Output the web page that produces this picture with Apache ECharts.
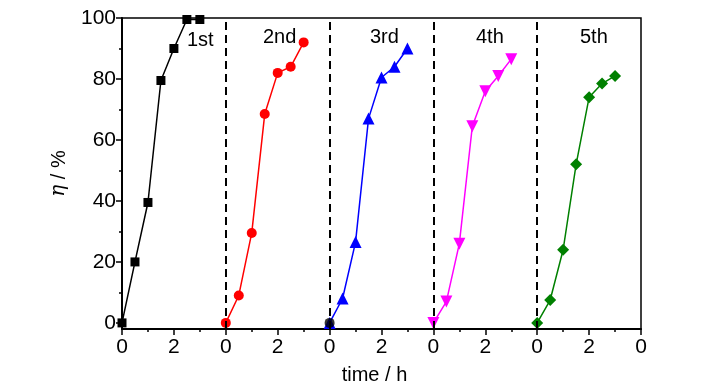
<!DOCTYPE html>
<html>
<head>
<meta charset="utf-8">
<script src="https://cdn.jsdelivr.net/npm/echarts@6/dist/echarts.min.js"></script>
<style>html,body{margin:0;padding:0;background:#fff;}#c{width:728px;height:390px;}</style>
</head>
<body>
<div id="c"></div>
<script>
// time within each run (h)
const timePoints = [0, 0.5, 1, 1.5, 2, 2.5, 3];
// start of each run on the continuous axis (h)
const runOffsets = [0, 4, 8, 12, 16];
const runNames = ['1st', '2nd', '3rd', '4th', '5th'];
// conversion eta (%)
const run1 = [0, 20, 39.5, 79.5, 90, 99.5, 99.5];
const run2 = [0, 9, 29.5, 68.5, 82, 84, 92];
const run3 = [0, 8, 26.5, 67, 80.5, 84, 90];
const run4 = [0, 7, 26, 64.5, 76, 81, 86.5];
const run5 = [0, 7.5, 24, 52, 74, 78.5, 81];
const yMajorTicks = [0, 20, 40, 60, 80, 100];
const yMinorTicks = [10, 30, 50, 70, 90];
const runBoundaries = [4, 8, 12, 16];

const runs = [run1, run2, run3, run4, run5];
const colors = ['#000000', '#ff0000', '#0000ff', '#ff00ff', '#008000'];
const symbols = ['rect', 'circle', 'triangle', 'path://M0,0 L10,0 L5,9 Z', 'diamond'];
const sizes = [9, 10, 12, 12, 12];

const chart = echarts.init(document.getElementById('c'));
const FONT = 'Liberation Sans, Arial, sans-serif';

const series = runs.map((vals, i) => ({
  type: 'line',
  data: vals.map((v, k) => [runOffsets[i] + timePoints[k], v]),
  symbol: symbols[i],
  symbolSize: sizes[i],
  showAllSymbol: true,
  lineStyle: { color: colors[i], width: 1.5 },
  itemStyle: { color: colors[i] },
  z: 3,
  animation: false
}));
series[0].markLine = {
  silent: true,
  symbol: ['none', 'none'],
  label: { show: false },
  lineStyle: { color: '#000', type: [8, 5], width: 2 },
  data: runBoundaries.map(b => ({ xAxis: b })),
  animation: false
};
// black dot at start of 3rd run
series.push({
  type: 'scatter',
  data: [[runOffsets[2] + timePoints[0], run3[0]]],
  symbol: 'circle',
  symbolSize: 10,
  itemStyle: { color: '#000' },
  z: 5,
  animation: false
});

chart.setOption({
  animation: false,
  backgroundColor: '#fff',
  grid: { left: 122, right: 87, top: 18, bottom: 61, show: true, borderColor: '#000', borderWidth: 1.5, backgroundColor: 'transparent' },
  xAxis: {
    type: 'value', min: 0, max: 20, interval: 2,
    name: 'time / h', nameLocation: 'middle', nameGap: 36,
    nameTextStyle: { fontFamily: FONT, fontSize: 20, color: '#000', padding: [0, 14, 0, 0] },
    axisLine: { show: true, onZero: false, lineStyle: { color: '#000', width: 2 } },
    axisTick: { show: true, length: 6, lineStyle: { color: '#000', width: 1.5 } },
    minorTick: { show: true, splitNumber: 2, length: 3, lineStyle: { color: '#000', width: 1.5 } },
    splitLine: { show: false },
    axisLabel: { fontFamily: FONT, fontSize: 21, color: '#000', margin: 8, formatter: v => String(v % 4) }
  },
  yAxis: [{
    type: 'value', min: -2, max: 100, position: 'left',
    name: '{i|η} / %', nameLocation: 'middle', nameGap: 53, nameRotate: 90,
    nameTextStyle: { fontFamily: FONT, fontSize: 20, color: '#000', rich: { i: { fontStyle: 'italic', fontFamily: 'DejaVu Serif, serif', fontSize: 20 } } },
    axisLine: { show: true, onZero: false, lineStyle: { color: '#000', width: 2 } },
    axisTick: { show: true, length: 6, customValues: yMajorTicks, lineStyle: { color: '#000', width: 1.5 } },
    splitLine: { show: false },
    axisLabel: { fontFamily: FONT, fontSize: 21, color: '#000', margin: 6, customValues: yMajorTicks }
  }, {
    type: 'value', min: -2, max: 100, position: 'left', offset: 0,
    axisLine: { show: false },
    axisTick: { show: true, length: 3, customValues: yMinorTicks, lineStyle: { color: '#000', width: 1.5 } },
    splitLine: { show: false },
    axisLabel: { show: false, customValues: yMinorTicks }
  }],
  graphic: runNames.map((n, i) => ({
    type: 'text',
    left: [187, 263, 370, 476, 580][i],
    top: i === 0 ? 30 : 27,
    style: { text: n, font: '20px ' + FONT, fill: '#000' },
    z: 10
  })),
  series: series
});
</script>
</body>
</html>
